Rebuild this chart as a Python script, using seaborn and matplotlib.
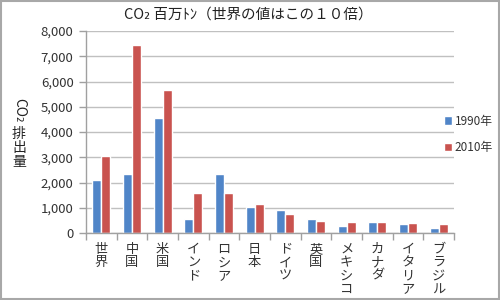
import matplotlib
matplotlib.use("Agg")
import matplotlib.pyplot as plt
import seaborn as sns
import pandas as pd
from matplotlib.patches import Rectangle
from matplotlib.ticker import FuncFormatter, FixedLocator

countries = ["世界", "中国", "米国", "インド", "ロシア", "日本", "ドイツ", "英国", "メキシコ", "カナダ", "イタリア", "ブラジル"]
y1990 = [2090, 2330, 4560, 570, 2330, 1040, 910, 540, 260, 420, 370, 180]
y2010 = [3030, 7430, 5670, 1600, 1590, 1130, 740, 480, 420, 440, 390, 360]
series = ["1990年", "2010年"]
colors = ["#5085C8", "#C9534F"]
title = "CO₂ 百万ﾄﾝ（世界の値はこの１０倍）"
ylabel_top = "CO₂"
ylabel_bottom = "排出量"

sns.set_theme(style="white")
plt.rcParams["font.family"] = ["Noto Sans CJK JP", "DejaVu Sans"]

df = pd.DataFrame({
    "country": countries * 2,
    "value": y1990 + y2010,
    "year": [series[0]] * len(countries) + [series[1]] * len(countries),
})

fig = plt.figure(figsize=(5, 3), dpi=100)
ax = fig.add_axes([86 / 500, 1 - 233 / 300, (454 - 86) / 500, (233 - 31) / 300])

sns.barplot(data=df, x="country", y="value", hue="year", palette=colors,
            width=0.59, ax=ax, saturation=1, legend=True)

ax.set_xlim(-0.5, len(countries) - 0.5)
ax.set_ylim(0, 8000)
ax.set_yticks(range(0, 8001, 1000))
ax.yaxis.set_major_formatter(FuncFormatter(lambda v, p: f"{int(v):,}"))
ax.grid(axis="y", color="#C0C0C0", linewidth=1)
ax.set_axisbelow(True)
ax.set_xlabel("")
ax.set_ylabel("")

for s in ["top", "right"]:
    ax.spines[s].set_visible(False)
for s in ["left", "bottom"]:
    ax.spines[s].set_color("#A0A0A0")
    ax.spines[s].set_linewidth(1)

ax.set_xticks(range(len(countries)))
ax.set_xticklabels(["\n".join(c) for c in countries], va="top", linespacing=1.05)
ax.xaxis.set_minor_locator(FixedLocator([i - 0.5 for i in range(len(countries) + 1)]))
ax.tick_params(axis="x", which="major", length=0, pad=7, labelsize=9.5, colors="#333333")
ax.tick_params(axis="x", which="minor", length=5, width=1, color="#A0A0A0", direction="out", bottom=True)
ax.tick_params(axis="y", which="major", length=5, width=1, color="#A0A0A0", direction="out", left=True,
               labelsize=9.5, colors="#333333", pad=4)

fig.text(248 / 500, 1 - 15 / 300, title, ha="center", va="center", fontsize=10.5, color="#222222")
fig.text(19 / 500, 1 - 110 / 300, ylabel_top, ha="center", va="center", rotation=-90, fontsize=10, color="#222222")
fig.text(19 / 500, 1 - 148 / 300, "\n".join(ylabel_bottom), ha="center", va="center", fontsize=10,
         linespacing=1.0, color="#222222")

handles, labels = ax.get_legend_handles_labels()
ax.legend_.remove()
fig.legend(handles, labels, loc="upper left", bbox_to_anchor=(433 / 500, 1 - 104 / 300), frameon=False,
           handlelength=0.7, handleheight=0.7, handletextpad=0.25, labelspacing=1.15, fontsize=8.5,
           labelcolor="#333333")

fig.patches.append(Rectangle((0.002, 0.003), 0.996, 0.994, transform=fig.transFigure, fill=False,
                             edgecolor="#A8A8A8", linewidth=1.5))

fig.savefig("out.png", dpi=100)
